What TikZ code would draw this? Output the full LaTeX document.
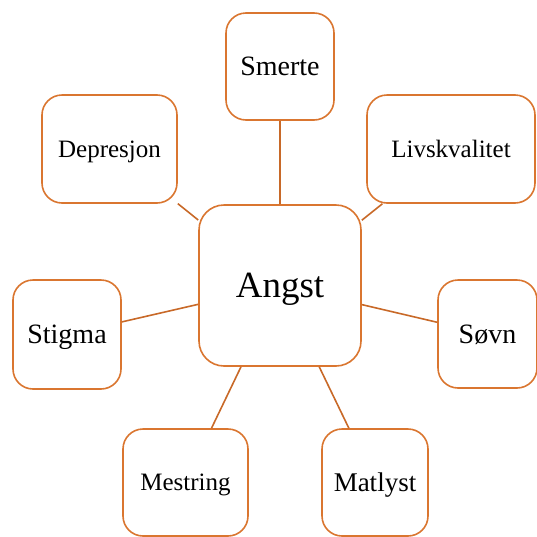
\documentclass[tikz,border=0pt]{standalone}
\usepackage{fontspec}
\setmainfont{Liberation Serif}
\usepackage{tikz}

\definecolor{boxorange}{RGB}{218,118,48}
\definecolor{lineorange}{RGB}{200,105,40}

\begin{document}
\begin{tikzpicture}[x=1pt, y=-1pt,
	topic/.style={draw=boxorange, line width=1.6pt, fill=white, rectangle, rounded corners=20pt, inner sep=0pt, text depth=0pt, align=center},
	big/.style={font=\fontsize{28}{30}\selectfont},
	small/.style={font=\fontsize{25}{27}\selectfont},
	link/.style={draw=lineorange, line width=1.6pt}]
	\useasboundingbox (0,0) rectangle (537,536);
	\node[topic, rounded corners=25pt, minimum width=162pt, minimum height=161pt, font=\fontsize{37}{40}\selectfont] (angst) at (280,285.5) {Angst};
	\node[topic, big, minimum width=108pt, minimum height=107pt] (smerte) at (280,66.5) {Smerte};
	\node[topic, small, minimum width=135pt, minimum height=108pt] (depresjon) at (109.5,149) {Depresjon};
	\node[topic, small, minimum width=168pt, minimum height=108pt] (livskvalitet) at (451,149) {Livskvalitet};
	\node[topic, big, minimum width=108pt, minimum height=109pt] (stigma) at (67,334.5) {Stigma};
	\node[topic, big, minimum width=99pt, minimum height=108pt] (sovn) at (487.5,334) {Søvn};
	\node[topic, small, minimum width=125pt, minimum height=107pt] (mestring) at (185.5,482.5) {Mestring};
	\node[topic, font=\fontsize{27}{29}\selectfont, minimum width=106pt, minimum height=107pt] (matlyst) at (375,482.5) {Matlyst};
	\foreach \n in {smerte, depresjon, livskvalitet, stigma, sovn, mestring, matlyst}
		\draw[link] (angst) -- (\n);
\end{tikzpicture}
\end{document}
